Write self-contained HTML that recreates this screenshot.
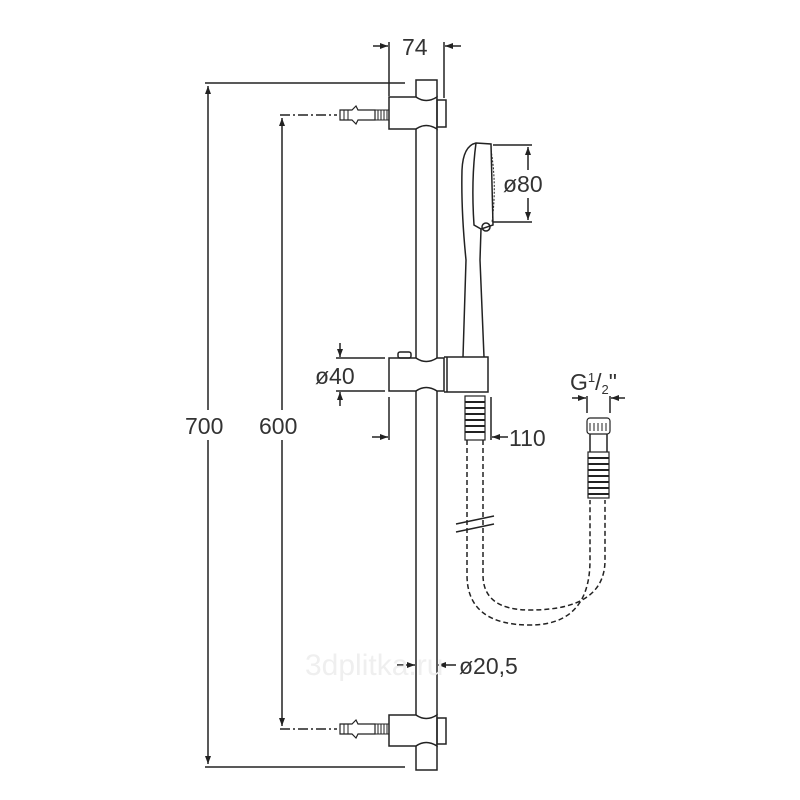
<!DOCTYPE html>
<html><head><meta charset="utf-8"><style>
html,body{margin:0;padding:0;background:#fff;width:800px;height:800px;overflow:hidden}
svg{display:block}
text{font-family:"Liberation Sans",sans-serif;fill:#333}
</style></head><body>
<svg width="800" height="800" viewBox="0 0 800 800" xmlns="http://www.w3.org/2000/svg">
<defs>
<marker id="a" markerWidth="8" markerHeight="6" refX="8" refY="3" orient="auto" markerUnits="userSpaceOnUse"><path d="M0,0 L8,3 L0,6 z" fill="#222"/></marker>
</defs>
<g stroke="#222" stroke-width="1.5" fill="none">
<line x1="205" y1="83" x2="405" y2="83"/>
<line x1="205" y1="767" x2="405" y2="767"/>
<line x1="208" y1="410" x2="208" y2="86" marker-end="url(#a)"/>
<line x1="208" y1="440" x2="208" y2="764" marker-end="url(#a)"/>
<line x1="282" y1="410" x2="282" y2="118" marker-end="url(#a)"/>
<line x1="282" y1="440" x2="282" y2="726" marker-end="url(#a)"/>
<line x1="280" y1="115" x2="337" y2="115" stroke-dasharray="10,3,2,3"/>
<line x1="280" y1="729" x2="337" y2="729" stroke-dasharray="10,3,2,3"/>
<line x1="416" y1="129" x2="416" y2="358"/>
<line x1="437" y1="129" x2="437" y2="358"/>
<line x1="416" y1="391" x2="416" y2="715"/>
<line x1="437" y1="391" x2="437" y2="715"/>
<path d="M416,97 L416,80 L437,80 L437,97"/>
<path d="M389,97 L389,129 L416,129 Q426,122 437,129 L437,97 Q426,104 416,97 Z"/>
<rect x="437" y="100" width="9" height="27"/>
<path d="M389,715 L389,746 L416,746 Q426,739 437,746 L437,715 Q426,722 416,715 Z"/>
<rect x="437" y="718" width="9" height="26"/>
<path d="M416,746 L416,770 L437,770 L437,746"/>
<g id="anc">
<path d="M340,110 L352,110 L356,106 L358,110 L375,110 L375,120 L358,120 L356,124 L352,120 L340,120 Z" stroke-width="1.2"/>
<path d="M375,110 L389,110 M375,120 L389,120 M378,110 L378,120 M381,110 L381,120 M384,110 L384,120 M387,110 L387,120" stroke-width="1"/>
<path d="M344,110 L344,120 M348,110 L348,120" stroke-width="1"/>
</g>
<use href="#anc" transform="translate(0,614)"/>
<line x1="389" y1="42" x2="389" y2="96"/>
<line x1="444" y1="42" x2="444" y2="98"/>
<line x1="373" y1="46" x2="388" y2="46" marker-end="url(#a)"/>
<line x1="461" y1="46" x2="445" y2="46" marker-end="url(#a)"/>
<path d="M389,358 L389,391 L416,391 Q426,384 437,391 L444,391 L444,358 L437,358 Q426,365 416,358 Z"/>
<rect x="398" y="352" width="13" height="6" rx="2"/>
<path d="M444,357 L488,357 L488,392 L444,392"/>
<line x1="447" y1="357" x2="447" y2="392"/>
<path d="M463,357 L466,260 Q461,210 462,170 Q463,146 476,143 L491,144 L493,225 L481,229 L480,260 L484,357"/>
<path d="M476,143 Q471,180 474,225 L481,229"/>
<path d="M491,150 Q497,185 492,222" stroke-width="1" stroke-dasharray="2,1.5"/>
<circle cx="486" cy="227" r="4"/>
<line x1="493" y1="145" x2="532" y2="145"/>
<line x1="493" y1="222" x2="532" y2="222"/>
<line x1="528" y1="170" x2="528" y2="147" marker-end="url(#a)"/>
<line x1="528" y1="198" x2="528" y2="220" marker-end="url(#a)"/>
<line x1="336" y1="358" x2="385" y2="358"/>
<line x1="336" y1="391" x2="385" y2="391"/>
<line x1="340" y1="343" x2="340" y2="357" marker-end="url(#a)"/>
<line x1="340" y1="406" x2="340" y2="392" marker-end="url(#a)"/>
<line x1="389" y1="397" x2="389" y2="440"/>
<line x1="491" y1="397" x2="491" y2="440"/>
<line x1="372" y1="437" x2="388" y2="437" marker-end="url(#a)"/>
<line x1="508" y1="437" x2="492" y2="437" marker-end="url(#a)"/>
<rect x="465" y="396" width="20" height="44" stroke-width="1.2"/>
<path d="M465,402 H485 M465,408 H485 M465,414 H485 M465,420 H485 M465,426 H485 M465,432 H485" stroke-width="2"/>
<path d="M467,440 L467,575 Q467,625 530,625 Q590,625 590,560 L590,500" stroke-dasharray="5,3"/>
<path d="M483,440 L483,575 Q483,610 530,610 Q605,610 605,560 L605,500" stroke-dasharray="5,3"/>
<line x1="456" y1="524" x2="494" y2="516"/>
<line x1="456" y1="532" x2="494" y2="524"/>
<rect x="587" y="418" width="23" height="16" rx="3" stroke-width="1.2"/>
<path d="M590,423 V431 M594,423 V431 M598,423 V431 M602,423 V431 M606,423 V431" stroke-width="1"/>
<path d="M590,434 L590,452 M607,434 L607,452"/>
<rect x="588" y="452" width="21" height="46" stroke-width="1.2"/>
<path d="M588,458 H609 M588,464 H609 M588,470 H609 M588,476 H609 M588,482 H609 M588,488 H609 M588,494 H609" stroke-width="2"/>
<line x1="587" y1="396" x2="587" y2="413"/>
<line x1="610" y1="396" x2="610" y2="413"/>
<line x1="572" y1="398" x2="586" y2="398" marker-end="url(#a)"/>
<line x1="625" y1="398" x2="611" y2="398" marker-end="url(#a)"/>
<line x1="397" y1="665" x2="415" y2="665" marker-end="url(#a)"/>
<line x1="456" y1="665" x2="438" y2="665" marker-end="url(#a)"/>
</g>
<text x="305" y="675" font-size="30" style="fill:#efefef">3dplitka.ru</text>
<text x="402" y="55" font-size="23">74</text>
<text x="503" y="192" font-size="23">ø80</text>
<text x="315" y="384" font-size="23">ø40</text>
<text x="509" y="446" font-size="23">110</text>
<text x="570" y="390" font-size="23">G<tspan font-size="13" dy="-8">1</tspan><tspan dy="8">/</tspan><tspan font-size="13" dy="4">2</tspan><tspan dy="-4">"</tspan></text>
<text x="459" y="674" font-size="23">ø20,5</text>
<text x="185" y="434" font-size="23">700</text>
<text x="259" y="434" font-size="23">600</text>
</svg>
</body></html>
